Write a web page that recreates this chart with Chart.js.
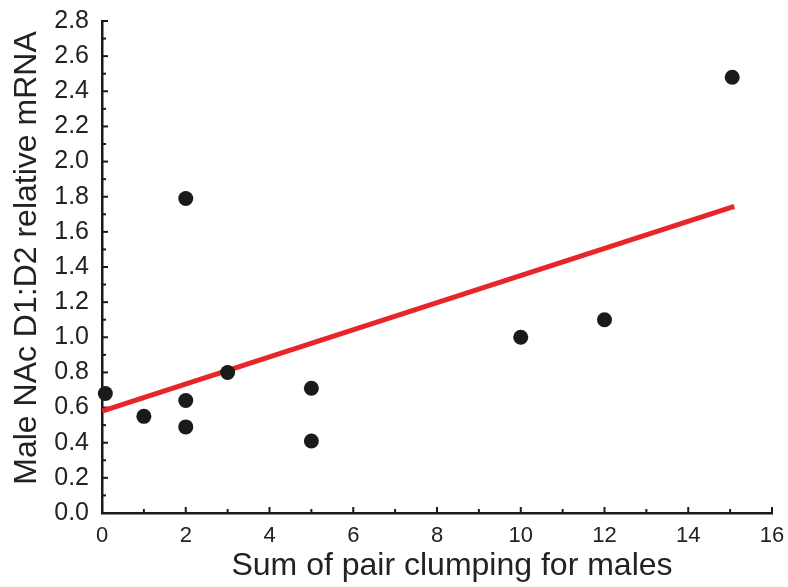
<!DOCTYPE html>
<html>
    <head>
        <meta charset="UTF-8" />
        <title> Chart </title>
        <style type="text/css">
            body { margin: 0; background: #fff; }
            .chartBox { width: 788px; height: 587px; }
        </style>
    </head>
    <body>
        <div class="chartBox">
            <canvas id="myChart" width="788" height="587"></canvas>
        </div>

        <script src="https://cdn.jsdelivr.net/npm/chart.js"></script>
        <script>
        //data
        const clumpX = [0.08, 1, 2, 2, 2, 3, 5, 5, 10, 12, 15.05];
        const mrnaY = [0.68, 0.55, 1.79, 0.64, 0.49, 0.80, 0.71, 0.41, 1.00, 1.10, 2.48];
        const fitX = [0, 15.1];
        const fitY = [0.58, 1.745];
        const xTicks = [0, 2, 4, 6, 8, 10, 12, 14, 16];
        const yTicks = [0, 0.2, 0.4, 0.6, 0.8, 1.0, 1.2, 1.4, 1.6, 1.8, 2.0, 2.2, 2.4, 2.6, 2.8];
        const xTitle = 'Sum of pair clumping for males';
        const yTitle = 'Male NAc D1:D2 relative mRNA';

        const fontFamily = '"Liberation Sans", Arial, Helvetica, sans-serif';

        // inward ticks, major + minor
        const innerTicks = {
            id: 'innerTicks',
            beforeDatasetsDraw(chart) {
                const ctx = chart.ctx;
                const xs = chart.scales.x, ys = chart.scales.y;
                const bottom = chart.chartArea.bottom, left = chart.chartArea.left;
                ctx.save();
                ctx.strokeStyle = '#1a1a1a';
                ctx.lineWidth = 2;
                for (let v = 0; v <= 16; v++) {
                    const px = xs.getPixelForValue(v);
                    const len = v % 2 === 0 ? 6 : 4;
                    ctx.beginPath();
                    ctx.moveTo(px, bottom);
                    ctx.lineTo(px, bottom - len);
                    ctx.stroke();
                }
                for (let i = 0; i <= 28; i++) {
                    const py = ys.getPixelForValue(i / 10);
                    const len = i % 2 === 0 ? 6 : 4;
                    ctx.beginPath();
                    ctx.moveTo(left, py);
                    ctx.lineTo(left + len, py);
                    ctx.stroke();
                }
                ctx.restore();
            }
        };

        // axis titles, drawn by hand so they sit where the original has them
        const axisTitles = {
            id: 'axisTitles',
            afterDraw(chart) {
                const ctx = chart.ctx;
                const ca = chart.chartArea;
                ctx.save();
                ctx.fillStyle = '#222';
                ctx.font = '32px ' + fontFamily;
                ctx.textAlign = 'center';
                ctx.textBaseline = 'alphabetic';
                ctx.fillText(xTitle, (ca.left + ca.right) / 2 + 15, ca.bottom + 62);
                ctx.translate(36, (ca.top + ca.bottom) / 2 - 9);
                ctx.rotate(-Math.PI / 2);
                ctx.fillText(yTitle, 0, 0);
                ctx.restore();
            }
        };

        const data = {
            datasets: [{
                type: 'line',
                label: 'fit',
                data: fitX.map((x, i) => ({x: x, y: fitY[i]})),
                borderColor: '#e8262a',
                borderWidth: 5,
                pointRadius: 0,
                fill: false,
                order: 2
            }, {
                type: 'scatter',
                label: 'males',
                data: clumpX.map((x, i) => ({x: x, y: mrnaY[i]})),
                backgroundColor: '#1a1a1a',
                borderColor: '#1a1a1a',
                pointRadius: 7.5,
                borderWidth: 0,
                clip: false,
                order: 1
            }]
        };

        const config = {
            type: 'scatter',
            data,
            options: {
                responsive: false,
                animation: false,
                layout: { padding: { top: 21, right: 16, left: 0, bottom: 0 } },
                plugins: { legend: { display: false }, tooltip: { enabled: false } },
                scales: {
                    x: {
                        type: 'linear',
                        min: 0, max: 16,
                        afterBuildTicks: (s) => { s.ticks = xTicks.map(v => ({value: v})); },
                        afterFit: (s) => { s.height = 74; s.paddingLeft = 0; s.paddingRight = 0; },
                        grid: { display: false, drawTicks: false },
                        border: { display: true, color: '#1a1a1a', width: 2.5 },
                        ticks: { color: '#222', padding: 10, font: { family: fontFamily, size: 22 } }
                    },
                    y: {
                        type: 'linear',
                        min: 0, max: 2.8,
                        afterBuildTicks: (s) => { s.ticks = yTicks.map(v => ({value: v})); },
                        afterFit: (s) => { s.width = 102; s.paddingTop = 0; s.paddingBottom = 0; },
                        grid: { display: false, drawTicks: false },
                        border: { display: true, color: '#1a1a1a', width: 2.5 },
                        ticks: {
                            color: '#222', padding: 13,
                            font: { family: fontFamily, size: 25 },
                            callback: (v) => Number(v).toFixed(1)
                        }
                    }
                }
            },
            plugins: [innerTicks, axisTitles]
        };

        const myChart = new Chart(document.getElementById('myChart'), config);
        </script>
    </body>
</html>
